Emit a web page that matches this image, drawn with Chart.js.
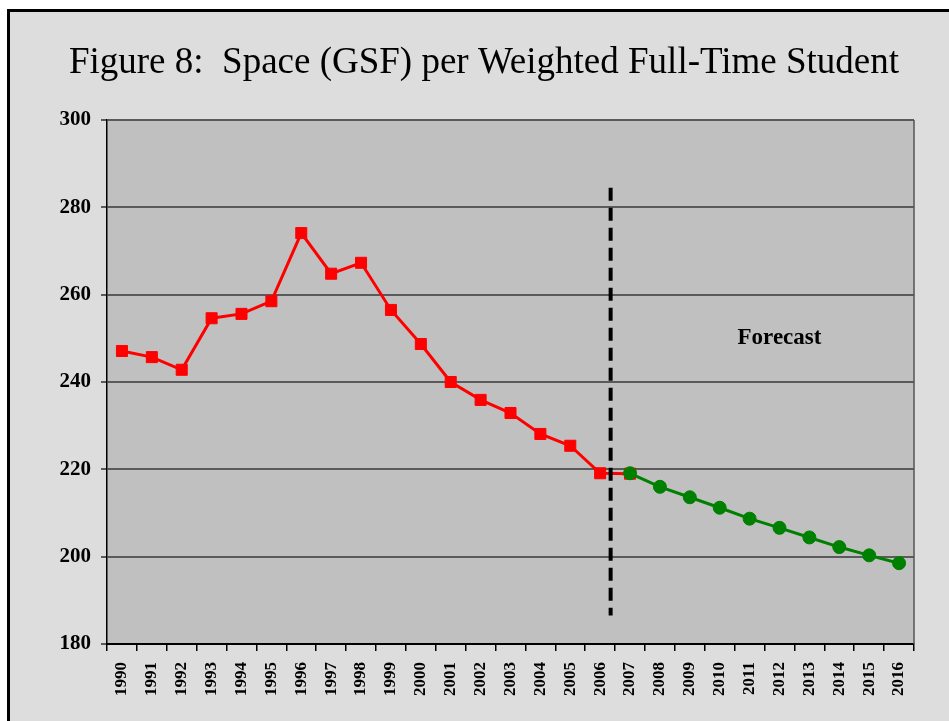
<!DOCTYPE html>
<html>
<head>
<meta charset="utf-8">
<script src="https://cdn.jsdelivr.net/npm/chart.js@4"></script>
<style>
  body { margin: 0; background: #ffffff; overflow: hidden; }
  #frame {
    position: absolute; left: 7px; top: 9px; width: 1000px; height: 800px;
    border: 3px solid #000; background: #dddddd;
  }
  #wrap { position: absolute; left: 0; top: 0; width: 949px; height: 721px; }
</style>
</head>
<body>
<div id="frame"></div>
<div id="wrap"><canvas id="chart" width="949" height="721"></canvas></div>
<script>
const years = ["1990","1991","1992","1993","1994","1995","1996","1997","1998","1999",
  "2000","2001","2002","2003","2004","2005","2006","2007","2008","2009",
  "2010","2011","2012","2013","2014","2015","2016"];

// actual values 1990-2007
const actual = [247.1, 245.7, 242.8, 254.6, 255.6, 258.5, 274.1, 264.8, 267.3, 256.5,
  248.7, 240.0, 235.9, 232.9, 228.1, 225.4, 219.1, 219.0];

// forecast values 2007-2016
const forecast = [219.1, 216.0, 213.6, 211.2, 208.7, 206.6, 204.4, 202.2, 200.3, 198.5];

const yTicks = [180, 200, 220, 240, 260, 280, 300];

// dashed separator (category index, value range) and label
const dividerAt = 16.35;
const dividerRange = [284.5, 186.5];
const forecastLabel = "Forecast";
const forecastLabelAt = [22, 250];

const actualData = years.map((y, i) => i < actual.length ? actual[i] : null);
const forecastData = years.map((y, i) => {
  const k = i - (years.length - forecast.length);
  return k >= 0 ? forecast[k] : null;
});

const serif = "'Liberation Serif', 'Times New Roman', serif";

const plotBg = {
  id: "plotBg",
  beforeDraw(chart) {
    const { ctx, chartArea: a } = chart;
    ctx.save();
    ctx.fillStyle = "#c0c0c0";
    ctx.fillRect(a.left, a.top, a.right - a.left, a.bottom - a.top);
    ctx.restore();
  },
  afterDraw(chart) {
    const { ctx, chartArea: a } = chart;
    ctx.save();
    ctx.strokeStyle = "#555555";
    ctx.lineWidth = 1.5;
    ctx.beginPath();
    ctx.moveTo(a.right, a.top);
    ctx.lineTo(a.right, a.bottom);
    ctx.stroke();
    ctx.restore();
  }
};

const divider = {
  id: "divider",
  afterDatasetsDraw(chart) {
    const { ctx, scales: { x, y } } = chart;
    const px = x.getPixelForValue(0) + dividerAt * (x.getPixelForValue(1) - x.getPixelForValue(0));
    ctx.save();
    ctx.strokeStyle = "#000";
    ctx.lineWidth = 4;
    ctx.setLineDash([13, 7]);
    ctx.beginPath();
    ctx.moveTo(px, y.getPixelForValue(dividerRange[0]));
    ctx.lineTo(px, y.getPixelForValue(dividerRange[1]));
    ctx.stroke();
    ctx.setLineDash([]);
    ctx.fillStyle = "#000";
    ctx.font = "bold 23px " + serif;
    ctx.textAlign = "center";
    ctx.textBaseline = "middle";
    ctx.fillText(forecastLabel, x.getPixelForValue(forecastLabelAt[0]), y.getPixelForValue(forecastLabelAt[1]));
    ctx.restore();
  }
};

const ctx = document.getElementById("chart").getContext("2d");
new Chart(ctx, {
  type: "line",
  data: {
    labels: years,
    datasets: [{
      label: "Forecast",
      data: forecastData,
      borderColor: "#008000",
      backgroundColor: "#008000",
      borderWidth: 3,
      pointStyle: "circle",
      pointRadius: 6.5,
      pointBorderWidth: 1,
      spanGaps: false
    }, {
      label: "Actual",
      data: actualData,
      borderColor: "#ff0000",
      backgroundColor: "#ff0000",
      borderWidth: 3,
      pointStyle: "rect",
      pointRadius: 7.8,
      pointBorderWidth: 1,
      spanGaps: false
    }]
  },
  options: {
    responsive: false,
    animation: false,
    layout: { padding: { left: 54, right: 35, top: 0, bottom: 0 } },
    plugins: {
      legend: { display: false },
      tooltip: { enabled: false },
      title: {
        display: true,
        text: "Figure 8:  Space (GSF) per Weighted Full-Time Student",
        color: "#000",
        font: { family: serif, size: 37, weight: "normal", lineHeight: 1.2 },
        padding: { top: 41, bottom: 34.6 }
      }
    },
    scales: {
      x: {
        offset: true,
        afterFit(scale) { scale.height = 77; },
        grid: { drawOnChartArea: false, offset: true, color: "#000", tickLength: 7, lineWidth: 1.5 },
        border: { color: "#000", width: 2 },
        ticks: {
          autoSkip: false, maxRotation: 90, minRotation: 90, padding: 11,
          color: "#000", font: { family: serif, size: 17, weight: "bold" }
        }
      },
      y: {
        min: 180, max: 300,
        afterFit(scale) { scale.width = 53; },
        afterBuildTicks(scale) { scale.ticks = yTicks.map(v => ({ value: v })); },
        grid: { color: "#5a5a5a", lineWidth: 2, tickLength: 6 },
        border: { color: "#000", width: 1.5 },
        ticks: {
          padding: 10, color: "#000",
          font: { family: serif, size: 21, weight: "bold" }
        }
      }
    }
  },
  plugins: [plotBg, divider]
});
</script>
</body>
</html>
